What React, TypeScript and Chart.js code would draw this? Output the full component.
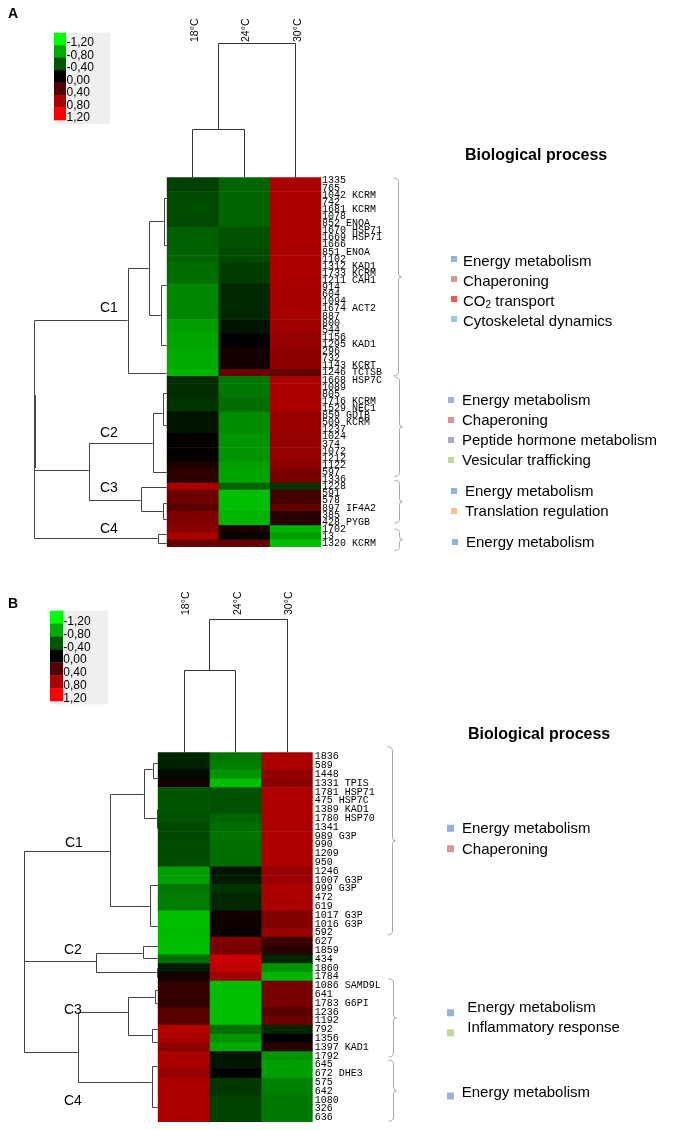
import React, { useEffect, useRef } from 'react';
import { Chart, registerables } from 'chart.js';

Chart.register(...registerables);

// ---------- data ----------
const temps = ['18°C', '24°C', '30°C'];
const keyValues = [-1.2, -0.8, -0.4, 0, 0.4, 0.8, 1.2];
const keyLabels = ['-1,20', '-0,80', '-0,40', '0,00', '0,40', '0,80', '1,20'];

const rowsA = ['1335', '765', '1042 KCRM', '742', '1681 KCRM', '1078', '852 ENOA', '1670 HSP71', '1669 HSP71', '1666', '851 ENOA', '1102', '1312 KAD1', '1733 KCRM', '1211 CAH1', '914', '604', '1094', '1674 ACT2', '887', '800', '544', '1156', '1295 KAD1', '296', '732', '1143 KCRT', '1246 TCTSB', '1668 HSP7C', '1089', '805', '1716 KCRM', '1529 NEC1', '859 GDIB', '509 KCRM', '1237', '1024', '374', '1072', '1212', '1122', '597', '1336', '1228', '591', '578', '897 IF4A2', '385', '428 PYGB', '1702', '13', '1320 KCRM'];

const a18 = [-0.3, -0.3, -0.35, -0.35, -0.35, -0.35, -0.35, -0.45, -0.45, -0.45, -0.47, -0.47, -0.52, -0.52, -0.52, -0.63, -0.63, -0.63, -0.63, -0.63, -0.75, -0.75, -0.78, -0.78, -0.8, -0.8, -0.8, -0.85,
  -0.21, -0.21, -0.21, -0.24, -0.24, -0.09, -0.09, -0.09, 0.02, 0.02, 0.02, 0.02, 0.14, 0.2, 0.2,
  0.8, 0.52, 0.52, 0.42, 0.6, 0.6,
  0.66, 0.8, 0.47];
const a24 = [-0.47, -0.47, -0.47, -0.47, -0.47, -0.47, -0.47, -0.38, -0.38, -0.38, -0.35, -0.35, -0.28, -0.28, -0.28, -0.19, -0.19, -0.19, -0.19, -0.19, -0.09, -0.09, 0, 0, 0.09, 0.09, 0.09, 0.5,
  -0.56, -0.56, -0.56, -0.52, -0.52, -0.66, -0.66, -0.66, -0.7, -0.7, -0.7, -0.7, -0.75, -0.77, -0.77,
  -0.47, -0.9, -0.9, -0.9, -0.85, -0.85,
  0.14, -0.03, 0.47];
const a30 = [0.8, 0.8, 0.8, 0.8, 0.8, 0.8, 0.8, 0.8, 0.8, 0.8, 0.8, 0.8, 0.8, 0.8, 0.8, 0.78, 0.78, 0.78, 0.78, 0.78, 0.75, 0.75, 0.7, 0.7, 0.66, 0.66, 0.66, 0.47,
  0.8, 0.8, 0.8, 0.8, 0.8, 0.73, 0.73, 0.73, 0.7, 0.7, 0.7, 0.7, 0.66, 0.58, 0.56,
  -0.24, 0.33, 0.33, 0.47, 0.19, 0.19,
  -0.85, -0.75, -0.9];

const rowsB = ['1836', '589', '1448', '1331 TPIS', '1781 HSP71', '475 HSP7C', '1389 KAD1', '1780 HSP70', '1341', '989 G3P', '990', '1209', '950', '1246', '1007 G3P', '999 G3P', '472', '619', '1017 G3P', '1016 G3P', '592', '627', '1859', '434', '1860', '1784', '1086 SAMD9L', '641', '1783 G6PI', '1236', '1192', '792', '1356', '1397 KAD1', '1792', '645', '672 DHE3', '575', '642', '1080', '326', '636'];

const b18 = [-0.18, -0.14, -0.05, 0.1, -0.4, -0.4, -0.4, -0.38, -0.35, -0.33, -0.35, -0.35, -0.35, -0.75, -0.75, -0.56, -0.59, -0.59, -0.9, -0.9, -0.87,
  -0.9, -0.9, -0.52, -0.12, 0.1,
  0.24, 0.24, 0.24, 0.42, 0.42, 0.85, 0.8, 0.66,
  0.8, 0.78, 0.7, 0.8, 0.8, 0.8, 0.8, 0.8];
const b24 = [-0.56, -0.6, -0.7, -0.9, -0.38, -0.38, -0.38, -0.47, -0.52, -0.54, -0.52, -0.52, -0.52, -0.1, -0.12, -0.24, -0.19, -0.19, 0.1, 0.07, 0.04,
  0.6, 0.56, 0.94, 0.9, 0.75,
  -0.9, -0.9, -0.9, -0.9, -0.9, -0.52, -0.7, -0.8,
  -0.1, -0.1, 0, -0.26, -0.26, -0.3, -0.3, -0.3];
const b30 = [0.8, 0.8, 0.7, 0.65, 0.82, 0.82, 0.82, 0.82, 0.82, 0.82, 0.82, 0.82, 0.82, 0.7, 0.73, 0.8, 0.8, 0.8, 0.6, 0.6, 0.7,
  0.28, 0.19, -0.19, -0.7, -0.85,
  0.56, 0.56, 0.56, 0.42, 0.5, -0.19, 0, 0.19,
  -0.7, -0.75, -0.75, -0.6, -0.6, -0.56, -0.56, -0.56];

// dendrogram merges: [top row pos, bottom row pos, distance, top child distance, bottom child distance]
type Merge = [number, number, number, number, number];
const rowTreeA: Merge[] = [
  [19.6, 50.24, 2.572, 0.76, 0.175],
  [40.68, 40.68, 2.572, 1.52, 1.52],
  [12.29, 27.0, 0.76, 0.351, 0],
  [5.6, 18.9, 0.351, 0.058, 0.117],
  [2.45, 9.06, 0.058, 0, 0],
  [14.68, 23.1, 0.117, 0, 0],
  [36.9, 44.9, 1.52, 0.273, 0.507],
  [32.67, 40.96, 0.273, 0.078, 0],
  [29.86, 34.36, 0.078, 0, 0],
  [43.0, 46.44, 0.507, 0, 0.078],
  [45.3, 47.6, 0.078, 0, 0],
  [49.68, 50.95, 0.175, 0, 0],
];
const rowTreeB: Merge[] = [
  [10.7, 33.54, 2.593, 0.929, 1.548],
  [23.24, 23.24, 2.593, 1.2, 1.2],
  [4.2, 16.97, 0.929, 0.271, 0.155],
  [1.4, 7.0, 0.271, 0.097, 0.019],
  [0.73, 2.41, 0.097, 0, 0],
  [5.9, 8.1, 0.019, 0, 0],
  [14.62, 19.21, 0.155, 0, 0],
  [22.34, 24.47, 1.2, 0.29, 0.019],
  [21.56, 22.9, 0.29, 0, 0],
  [24.0, 25.0, 0.019, 0, 0],
  [29.06, 37.01, 1.548, 0.58, 0.116],
  [27.27, 31.64, 0.58, 0.058, 0.116],
  [26.5, 28.0, 0.058, 0, 0],
  [30.9, 32.4, 0.116, 0, 0],
  [35.11, 39.81, 0.116, 0, 0],
];
// column merges: [left col pos, right col pos, height, left child height, right child height]
const colTreeA: Merge[] = [[0.5, 1.5, 0.935, 0, 0], [1.0, 2.5, 2.61, 0.935, 0]];
const colTreeB: Merge[] = [[0.5, 1.5, 1.587, 0, 0], [1.0, 2.5, 2.574, 1.587, 0]];

const processesA = [
  ['Energy metabolism', 'Chaperoning', 'CO2 transport', 'Cytoskeletal dynamics'],
  ['Energy metabolism', 'Chaperoning', 'Peptide hormone metabolism', 'Vesicular trafficking'],
  ['Energy metabolism', 'Translation regulation'],
  ['Energy metabolism'],
];
const processesB = [
  ['Energy metabolism', 'Chaperoning'],
  ['Energy metabolism', 'Inflammatory response'],
  ['Energy metabolism'],
];
const clusterNamesA = ['C1', 'C2', 'C3', 'C4'];
const clusterNamesB = ['C1', 'C2', 'C3', 'C4'];

const processColor: Record<string, string> = {
  'Energy metabolism': '#95b3d7',
  'Chaperoning': '#d99694',
  'CO2 transport': '#f25555',
  'Cytoskeletal dynamics': '#93cddd',
  'Peptide hormone metabolism': '#b3a2c7',
  'Vesicular trafficking': '#c3d69b',
  'Translation regulation': '#fac090',
  'Inflammatory response': '#c3d69b',
};

// ---------- layout ----------
const SANS = '"Liberation Sans", Arial, sans-serif';
const AXIS_W = 120;

const layoutA = {
  letter: 'A', letterBase: 18,
  key: { x: 54, y: 32.7, w: 56, h: 91.3, bw: 12, bh: 12.47, tx: 66.5 },
  colLabelBottom: 42,
  thick: [30.14, 40.4],
  cLabels: [[100, 312], [100, 437], [100, 492], [100, 533]],
  title: [465, 156],
  brackets: [[-0.4, 27.43, 398], [27.6, 41.58, 399], [42.14, 48.13, 399], [48.97, 51.98, 399]],
  groups: [
    { ys: [262, 282, 302, 322], sqX: 451, txX: 463, sq: 6, sqDy: -3 },
    { ys: [401, 421, 441, 461], sqX: 448, txX: 462, sq: 6, sqDy: -1 },
    { ys: [492, 512], sqX: 451, txX: 465, sq: 6, sqDy: -1 },
    { ys: [543], sqX: 452, txX: 466, sq: 6, sqDy: -1 },
  ],
  pad: { left: 166.7, right: 365 - AXIS_W, top: 177.3, bottom: 43 },
  tickPad: 1,
};
const layoutB = {
  letter: 'B', letterBase: 18,
  key: { x: 50, y: 20.7, w: 58, h: 93.6, bw: 13, bh: 12.9, tx: 63.3 },
  colLabelBottom: 25,
  thick: null as null | number[],
  cLabels: [[65, 256.7], [64, 364], [64, 424], [64, 515]],
  title: [468, 145],
  brackets: [[-1.13, 20.25, 391.7], [25.23, 34.1, 393.3], [34.47, 41.42, 392.7]],
  groups: [
    { ys: [239.3, 259.7], sqX: 447, txX: 462, sq: 7, sqDy: -1 },
    { ys: [418.3, 438.3], sqX: 447, txX: 467.3, sq: 7, sqDy: 4.5 },
    { ys: [503.3], sqX: 447, txX: 461.7, sq: 7, sqDy: 2.7 },
  ],
  pad: { left: 157.7, right: 373.3 - AXIS_W, top: 162.3, bottom: 3.3 },
  tickPad: 2,
};

const heatColor = (v: number) => {
  const k = Math.min(1, Math.abs(v) / 1.2);
  const c = Math.round(k * 255);
  return v < 0 ? `rgb(0,${c},0)` : `rgb(${c},0,0)`;
};

function makeDecor(L: any, rowTree: Merge[], colTree: Merge[], processes: string[][], cNames: string[]) {
  return {
    id: 'decor' + L.letter,
    afterDraw(chart: any) {
      const ctx: CanvasRenderingContext2D = chart.ctx;
      const xs = chart.scales.x;
      const ys = chart.scales.y;
      const area = chart.chartArea;
      const X = (v: number) => xs.getPixelForValue(v);
      const Y = (p: number) => ys.getPixelForValue(p);
      const unit = X(1) - X(0);
      const s = (v: number) => Math.round(v) + 0.5;
      ctx.save();

      // panel letter
      ctx.fillStyle = '#000';
      ctx.textAlign = 'left';
      ctx.textBaseline = 'alphabetic';
      ctx.font = `bold 14px ${SANS}`;
      ctx.fillText(L.letter, 8, L.letterBase);

      // colour key
      const k = L.key;
      ctx.fillStyle = '#efefef';
      ctx.fillRect(k.x, k.y, k.w, k.h);
      keyValues.forEach((v, i) => {
        ctx.fillStyle = heatColor(v);
        ctx.fillRect(k.x, k.y + i * k.bh, k.bw, k.bh + 0.3);
      });
      ctx.fillStyle = '#000';
      ctx.font = `12px ${SANS}`;
      ctx.textBaseline = 'middle';
      keyLabels.forEach((t, i) => {
        ctx.fillText(t, k.tx, k.y + i * k.bh + k.bh * 0.83);
      });

      // column labels
      ctx.font = `10.5px ${SANS}`;
      temps.forEach((t, c) => {
        ctx.save();
        ctx.translate(X(c + 0.5) + 2.5, L.colLabelBottom);
        ctx.rotate(-Math.PI / 2);
        ctx.textAlign = 'left';
        ctx.textBaseline = 'middle';
        ctx.fillText(t, 0, 0);
        ctx.restore();
      });

      // column dendrogram
      const Yc = (h: number) => area.top - h * unit;
      ctx.strokeStyle = '#333';
      ctx.lineWidth = 1;
      ctx.beginPath();
      colTree.forEach(([cl, cr, h, hl, hr]) => {
        const x1 = s(X(cl)), x2 = s(X(cr)), y = s(Yc(h));
        ctx.moveTo(x1, y); ctx.lineTo(x2, y);
        ctx.moveTo(x1, y); ctx.lineTo(x1, Yc(hl));
        ctx.moveTo(x2, y); ctx.lineTo(x2, Yc(hr));
      });
      ctx.stroke();

      // row dendrogram
      ctx.strokeStyle = '#444';
      ctx.beginPath();
      rowTree.forEach(([pt, pb, d, dt, db]) => {
        const x = s(X(-d)), yt = s(Y(pt)), yb = s(Y(pb));
        ctx.moveTo(x, yt); ctx.lineTo(x, yb);
        ctx.moveTo(x, yt); ctx.lineTo(X(-dt), yt);
        ctx.moveTo(x, yb); ctx.lineTo(X(-db), yb);
      });
      ctx.stroke();
      if (L.thick) {
        const root = rowTree[0];
        ctx.lineWidth = 2;
        ctx.beginPath();
        ctx.moveTo(Math.round(X(-root[2])) + 1, Y(L.thick[0]));
        ctx.lineTo(Math.round(X(-root[2])) + 1, Y(L.thick[1]));
        ctx.stroke();
        ctx.lineWidth = 1;
      }

      // cluster labels
      ctx.fillStyle = '#000';
      ctx.font = `14px ${SANS}`;
      ctx.textBaseline = 'alphabetic';
      ctx.textAlign = 'left';
      L.cLabels.forEach(([x, y]: number[], i: number) => ctx.fillText(cNames[i], x, y));

      // title
      ctx.font = `bold 16px ${SANS}`;
      ctx.textBaseline = 'middle';
      ctx.fillText('Biological process', L.title[0], L.title[1]);

      // brackets
      ctx.strokeStyle = '#a8a8a8';
      L.brackets.forEach(([p0, p1, bx]: number[]) => {
        const x = s(bx), y0 = Y(p0), y1 = Y(p1), ym = (y0 + y1) / 2;
        ctx.beginPath();
        ctx.moveTo(x - 5, y0);
        ctx.quadraticCurveTo(x, y0, x, y0 + 4);
        ctx.lineTo(x, ym - 3);
        ctx.quadraticCurveTo(x, ym, x + 3, ym);
        ctx.quadraticCurveTo(x, ym, x, ym + 3);
        ctx.lineTo(x, y1 - 4);
        ctx.quadraticCurveTo(x, y1, x - 5, y1);
        ctx.stroke();
      });

      // process legends
      L.groups.forEach((g: any, gi: number) => {
        processes[gi].forEach((name, i) => {
          const y = g.ys[i];
          ctx.fillStyle = processColor[name];
          ctx.fillRect(g.sqX, y + g.sqDy - g.sq / 2, g.sq, g.sq);
          ctx.fillStyle = '#000';
          ctx.font = `15px ${SANS}`;
          ctx.textBaseline = 'middle';
          if (name === 'CO2 transport') {
            ctx.fillText('CO', g.txX, y);
            const w = ctx.measureText('CO').width;
            ctx.font = `10px ${SANS}`;
            ctx.fillText('2', g.txX + w, y + 3);
            const w2 = ctx.measureText('2').width;
            ctx.font = `15px ${SANS}`;
            ctx.fillText(' transport', g.txX + w + w2, y);
          } else {
            ctx.fillText(name, g.txX, y);
          }
        });
      });
      ctx.restore();
    },
  };
}

function makeConfig(rows: string[], cols: number[][], L: any, plugin: any): any {
  return {
    type: 'bar',
    data: {
      labels: rows,
      datasets: cols.map((vals, c) => ({
        label: temps[c],
        data: vals.map(() => [c, c + 1]),
        backgroundColor: vals.map(heatColor),
        borderWidth: 0,
        grouped: false,
        categoryPercentage: 1,
        barPercentage: 1,
      })),
    },
    options: {
      indexAxis: 'y',
      responsive: false,
      animation: false,
      devicePixelRatio: 1,
      layout: { padding: L.pad },
      plugins: { legend: { display: false }, tooltip: { enabled: false } },
      scales: {
        x: { type: 'linear', min: 0, max: 3, display: false },
        y: {
          type: 'category',
          position: 'right',
          offset: true,
          grid: { display: false, drawTicks: false },
          border: { display: false },
          ticks: {
            autoSkip: false,
            padding: L.tickPad,
            color: '#000',
            font: { family: '"Liberation Mono", "Courier New", monospace', size: 10 },
          },
          afterFit: (sc: any) => { sc.width = AXIS_W; },
        },
      },
    },
    plugins: [plugin],
  };
}

function Panel({ rows, cols, L, tree, ctree, processes, names, height }: any) {
  const ref = useRef<HTMLCanvasElement>(null);
  useEffect(() => {
    if (!ref.current) return;
    const chart = new Chart(ref.current, makeConfig(rows, cols, L, makeDecor(L, tree, ctree, processes, names)));
    return () => chart.destroy();
  }, []);
  return <canvas ref={ref} width={686} height={height} style={{ display: 'block', width: 686, height }} />;
}

export default function App() {
  return (
    <div style={{ position: 'absolute', left: 0, top: 0, width: 686, height: 1130, background: '#fff' }}>
      <Panel rows={rowsA} cols={[a18, a24, a30]} L={layoutA} tree={rowTreeA} ctree={colTreeA} processes={processesA} names={clusterNamesA} height={590} />
      <Panel rows={rowsB} cols={[b18, b24, b30]} L={layoutB} tree={rowTreeB} ctree={colTreeB} processes={processesB} names={clusterNamesB} height={540} />
    </div>
  );
}
